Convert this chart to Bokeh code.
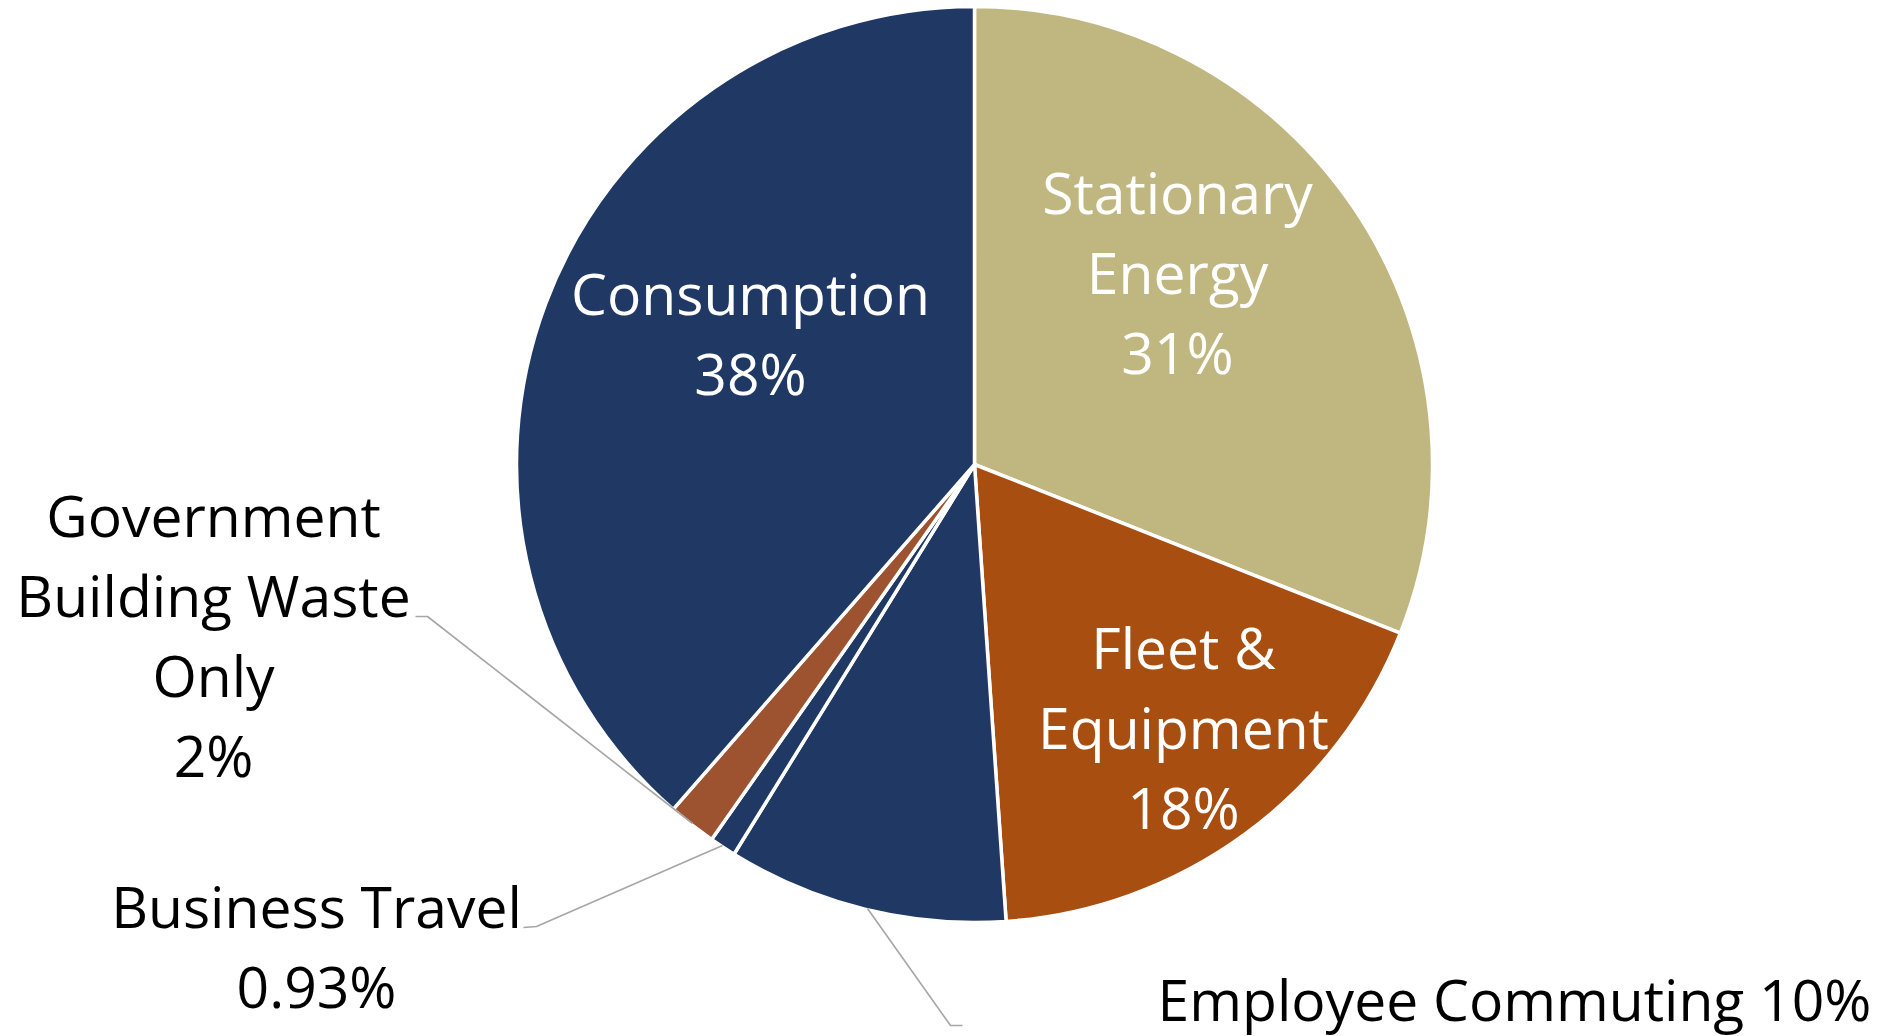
import math
from bokeh.plotting import figure
from bokeh.models import ColumnDataSource, Range1d
from bokeh.core.properties import value
from bokeh.embed import file_html
from bokeh.resources import INLINE

# ---------------- data ----------------
categories = ["Stationary Energy", "Fleet & Equipment", "Employee Commuting",
              "Business Travel", "Government Building Waste Only", "Consumption"]
shares = [31.0, 17.9, 9.9, 0.93, 1.7, 38.57]
pct_labels = ["31%", "18%", "10%", "0.93%", "2%", "38%"]

# ---------------- style / layout ----------------
colors = ["#C0B780", "#A84E10", "#203864", "#203864", "#9D5330", "#203864"]
W, H = 1879, 1036
FONT = value("Open Sans")
FS = "57px"
LINE = "#A6A6A6"
BASE_FIX = 21  # renderer draws alphabetic baseline lower than requested


def px(x):
    return x


def py(y):
    return H - y


CX, CY, R = px(974), py(464), 458

# label line layout per category: (lines of name, x, first baseline, align, colour)
label_layout = {
    "Stationary Energy": (["Stationary", "Energy"], 1177, 212, "center", "white"),
    "Fleet & Equipment": (["Fleet &", "Equipment"], 1183, 667, "center", "white"),
    "Employee Commuting": ([], 1514, 1019, "center", "black"),
    "Business Travel": (["Business Travel"], 316, 926, "center", "black"),
    "Government Building Waste Only": (["Government", "Building Waste", "Only"], 213, 535, "center", "black"),
    "Consumption": (["Consumption"], 750, 313, "center", "white"),
}
LINE_STEP = 80

leaders = [
    [(415, 616), (427, 616), (692, 823)],
    [(523, 927), (536, 926), (722, 845)],
    [(867, 908), (950, 1025), (962, 1025)],
]

# ---------------- wedges ----------------
total = sum(shares)
starts, ends = [], []
acc = 0.0
for s in shares:
    starts.append(math.pi / 2 - 2 * math.pi * acc / total)
    acc += s
    ends.append(math.pi / 2 - 2 * math.pi * acc / total)

src = ColumnDataSource(dict(cat=categories, start=starts, end=ends, color=colors))

p = figure(width=W, height=H, x_range=Range1d(0, W), y_range=Range1d(0, H),
           output_backend="svg", toolbar_location=None, min_border=0,
           x_axis_location=None, y_axis_location=None)
p.grid.visible = False
p.outline_line_color = None
p.background_fill_color = "white"
p.border_fill_color = "white"

p.wedge(x=CX, y=CY, radius=R, start_angle="start", end_angle="end",
        direction="clock", fill_color="color", line_color="white",
        line_width=3.5, source=src)

for pts in leaders:
    p.line([px(a) for a, b in pts], [py(b) for a, b in pts], line_color=LINE, line_width=1.6)

# ---------------- labels ----------------
for cat, pct in zip(categories, pct_labels):
    lines, lx, ly, align, col = label_layout[cat]
    if cat == "Employee Commuting":
        texts = [cat + " " + pct]
    else:
        texts = lines + [pct]
    xs = [px(lx)] * len(texts)
    ys = [py(ly + i * LINE_STEP) + BASE_FIX for i in range(len(texts))]
    p.text(x=xs, y=ys, text=texts, text_align=align, text_baseline="alphabetic",
           text_font=FONT, text_font_size=FS, text_color=col)

open("out.html", "w").write(file_html(p, INLINE))
